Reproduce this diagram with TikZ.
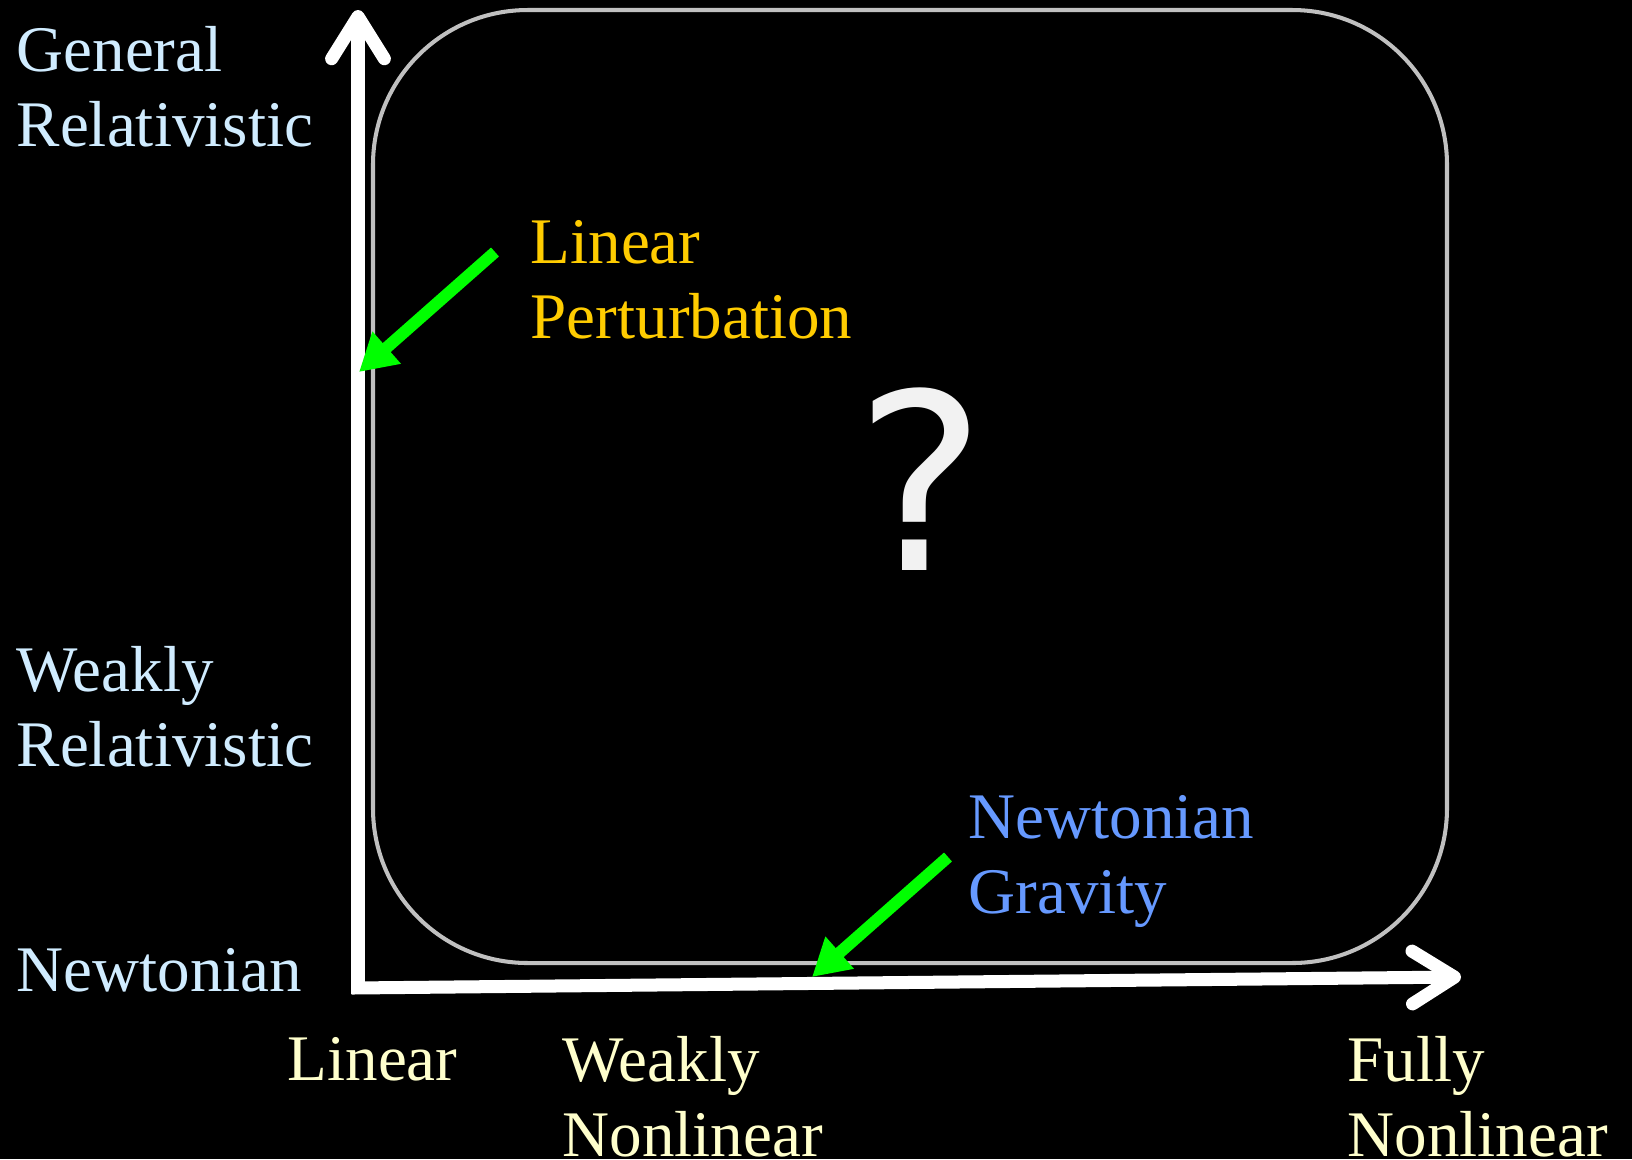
\documentclass[tikz,border=0pt]{standalone}
\usepackage{fontspec}
\setmainfont{Liberation Serif}
\newfontfamily\qmarkfont{DejaVu Sans}
\usepackage{tikz}
\usetikzlibrary{arrows.meta,positioning,calc}
\definecolor{relblue}{HTML}{D0ECFF}
\definecolor{nlyellow}{HTML}{FFFFCC}
\definecolor{pertgold}{HTML}{FFCC00}
\definecolor{newtblue}{HTML}{6699FF}
\definecolor{hintgreen}{HTML}{00FF00}
\definecolor{regiongray}{HTML}{C0C0C0}
\definecolor{qmarkgray}{HTML}{F2F2F2}
\tikzset{
  regime/.style={
    anchor=base west,
    inner sep=0pt,
    align=left,
    font=\fontsize{18.5}{21.3}\selectfont
  }
}
\tikzset{
  gravity regime/.style={
    regime,
    text=relblue
  }
}
\tikzset{
  nonlinear regime/.style={
    regime,
    text=nlyellow
  }
}
\tikzset{
  method/.style={
    regime
  }
}
\tikzset{
  axis/.style={
    -{Straight Barb[length=12pt,width=15pt,round]},
    draw=white,
    line width=3.7pt
  }
}
\tikzset{
  pointer/.style={
    -{Triangle[length=10.5pt,width=11.5pt]},
    draw=hintgreen,
    line width=3.4pt
  }
}
\tikzset{
  region/.style={
    draw=regiongray,
    line width=1.15pt,
    rounded corners=44pt
  }
}

\begin{document}
\begin{tikzpicture}[x=0.01cm,y=-0.01cm]

    % ------------------------------------------------------------
    % Frame
    % ------------------------------------------------------------

    \fill[black] (0,0) rectangle (1632,1159);
    \useasboundingbox (0,0) rectangle (1632,1159);

    \draw[region] (373,10) rectangle (1447,963);

    % ------------------------------------------------------------
    % Axes
    % ------------------------------------------------------------

    \coordinate (O) at (358,988);
    \coordinate (ytip) at (358,10);
    \coordinate (xtip) at (1461,977);

    \draw[axis] ([yshift=-1.8pt]O) -- (ytip);
    \draw[axis] ([xshift=-1.8pt]O) -- (xtip);

    % ------------------------------------------------------------
    % Nodes (placed at the baseline of their last line)
    % ------------------------------------------------------------

    \node[gravity regime] (GR) at (16,146) {General\\Relativistic};
    \node[gravity regime] (WR) at (16,766) {Weakly\\Relativistic};
    \node[gravity regime] (NT) at (16,991) {Newtonian};

    \node[nonlinear regime] (LN) at (287,1080) {Linear};
    \node[nonlinear regime] (WN) at (562,1156) {Weakly\\Nonlinear};
    \node[nonlinear regime] (FN) at (1347,1156) {Fully\\Nonlinear};

    \node[method,text=pertgold] (LP) at (530,338) {Linear\\Perturbation};
    \node[method,text=newtblue] (NG) at (968,913) {Newtonian\\Gravity};

    \node[anchor=base,inner sep=0pt,text=qmarkgray,
      font=\qmarkfont\fontsize{70}{84}\selectfont] (unknown) at (921,570) {?};

    % ------------------------------------------------------------
    % Pointers
    % ------------------------------------------------------------

    \coordinate (LPtail) at (495,252);
    \coordinate (LPtip) at (359,372);
    \coordinate (NGtail) at (948,857);
    \coordinate (NGtip) at (812,977);

    \draw[pointer] (LPtail) -- (LPtip);
    \draw[pointer] (NGtail) -- (NGtip);

    \end{tikzpicture}
\end{document}
